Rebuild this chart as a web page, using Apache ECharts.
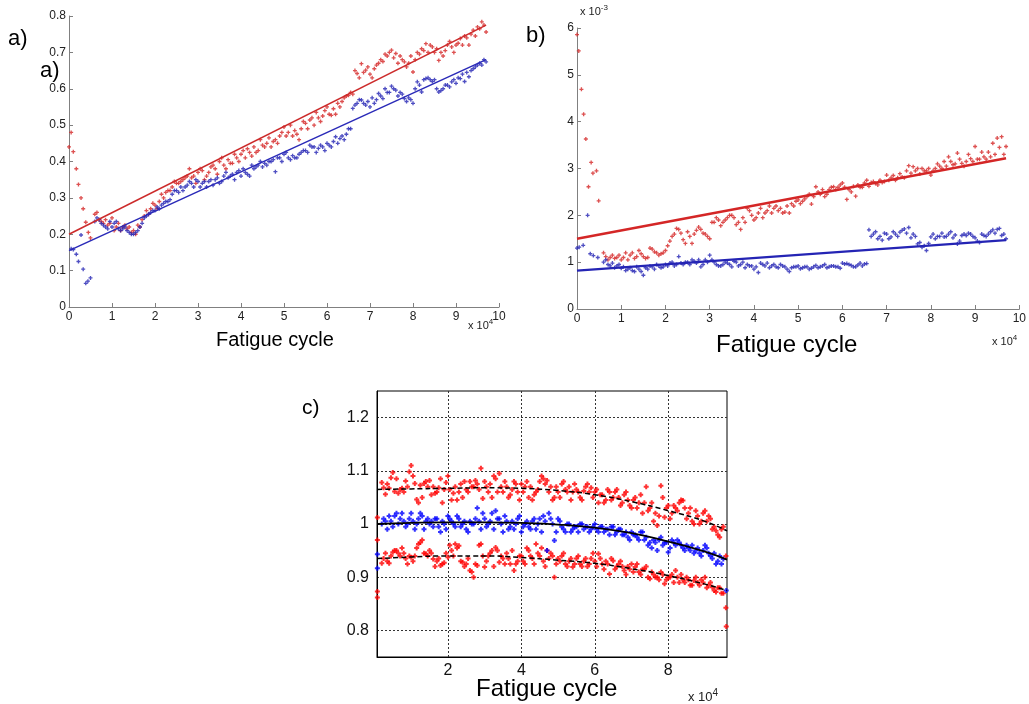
<!DOCTYPE html>
<html><head><meta charset="utf-8">
<script src="https://cdn.jsdelivr.net/npm/echarts@6/dist/echarts.min.js"></script>
<style>html,body{margin:0;padding:0;background:#fff}#c{width:1029px;height:704px}</style>
</head><body><div id="c"></div>
<script>
// ---------- Panel a ----------
const aRedX = [0,0.05,0.1,0.17,0.22,0.28,0.33,0.39,0.45,0.5,0.6,0.7,0.8,0.9,1.0,1.1,1.2,1.3,1.4,1.5,1.6,1.7,1.8,1.9,2.0,2.1,2.2,2.3,2.4,2.5,2.6,2.7,2.8,2.9,3.0,3.1,3.2,3.3,3.4,3.5,3.6,3.7,3.8,3.9,4.0,4.1,4.2,4.3,4.4,4.5,4.6,4.7,4.8,4.9,5.0,5.1,5.2,5.3,5.4,5.5,5.6,5.7,5.8,5.9,6.0,6.1,6.2,6.3,6.4,6.5,6.6,6.7,6.8,6.9,7.0,7.1,7.2,7.3,7.4,7.5,7.6,7.7,7.8,7.9,8.0,8.1,8.2,8.3,8.4,8.5,8.6,8.7,8.8,8.9,9.0,9.1,9.2,9.3,9.4,9.5,9.6,9.7];
const aRedY = [0.44,0.48,0.427,0.38,0.337,0.30,0.27,0.233,0.205,0.19,0.255,0.24,0.23,0.225,0.245,0.22,0.21,0.225,0.22,0.21,0.225,0.24,0.265,0.27,0.28,0.29,0.30,0.32,0.33,0.34,0.345,0.355,0.38,0.36,0.37,0.375,0.36,0.385,0.38,0.40,0.39,0.405,0.395,0.41,0.42,0.41,0.425,0.44,0.43,0.445,0.45,0.44,0.46,0.47,0.495,0.48,0.47,0.475,0.49,0.505,0.514,0.50,0.52,0.525,0.55,0.527,0.53,0.55,0.575,0.582,0.585,0.642,0.669,0.651,0.64,0.655,0.67,0.675,0.69,0.706,0.697,0.69,0.674,0.67,0.646,0.70,0.71,0.724,0.72,0.70,0.678,0.69,0.72,0.715,0.72,0.738,0.745,0.72,0.761,0.77,0.784,0.756];
const aX2 = [0.65,0.75,0.85,0.95,1.05,1.15,1.25,1.35,1.45,1.55,1.65,1.75,1.85,1.95,2.05,2.15,2.25,2.35,2.45,2.55,2.65,2.75,2.85,2.95,3.05,3.15,3.25,3.35,3.45,3.55,3.65,3.75,3.85,3.95,4.05,4.15,4.25,4.35,4.45,4.55,4.65,4.75,4.85,4.95,5.05,5.15,5.25,5.35,5.45,5.55,5.65,5.75,5.85,5.95,6.05,6.15,6.25,6.35,6.45,6.55,6.65,6.75,6.85,6.95,7.05,7.15,7.25,7.35,7.45,7.55,7.65,7.75,7.85,7.95,8.05,8.15,8.25,8.35,8.45,8.55,8.65,8.75,8.85,8.95,9.05,9.15,9.25,9.35,9.45,9.55,9.65];
const aRedY2 = [0.26,0.235,0.24,0.23,0.21,0.23,0.22,0.215,0.205,0.2,0.22,0.25,0.255,0.285,0.27,0.31,0.315,0.32,0.345,0.34,0.35,0.36,0.355,0.34,0.38,0.35,0.37,0.39,0.365,0.41,0.38,0.395,0.42,0.40,0.43,0.435,0.415,0.425,0.46,0.44,0.465,0.455,0.45,0.48,0.47,0.5,0.485,0.46,0.51,0.49,0.52,0.535,0.51,0.54,0.53,0.545,0.56,0.565,0.58,0.59,0.65,0.63,0.645,0.66,0.63,0.665,0.68,0.695,0.70,0.685,0.67,0.68,0.66,0.69,0.68,0.695,0.705,0.70,0.715,0.71,0.70,0.705,0.73,0.70,0.725,0.72,0.74,0.75,0.745,0.765,0.775];
const aBlueX = [0.05,0.1,0.17,0.22,0.28,0.33,0.39,0.44,0.5,0.6,0.7,0.8,0.9,1.0,1.1,1.2,1.3,1.4,1.5,1.6,1.7,1.8,1.9,2.0,2.1,2.2,2.3,2.4,2.5,2.6,2.7,2.8,2.9,3.0,3.1,3.2,3.3,3.4,3.5,3.6,3.7,3.8,3.9,4.0,4.1,4.2,4.3,4.4,4.5,4.6,4.7,4.8,4.9,5.0,5.1,5.2,5.3,5.4,5.5,5.6,5.7,5.8,5.9,6.0,6.1,6.2,6.3,6.4,6.5,6.6,6.7,6.8,6.9,7.0,7.1,7.2,7.3,7.4,7.5,7.6,7.7,7.8,7.9,8.0,8.1,8.2,8.3,8.4,8.5,8.6,8.7,8.8,8.9,9.0,9.1,9.2,9.3,9.4,9.5,9.6,9.7];
const aBlueY = [0.16,0.158,0.145,0.125,0.198,0.104,0.065,0.071,0.08,0.235,0.24,0.225,0.215,0.22,0.235,0.21,0.22,0.205,0.20,0.21,0.23,0.25,0.26,0.265,0.27,0.285,0.29,0.31,0.32,0.33,0.33,0.345,0.33,0.345,0.34,0.33,0.35,0.35,0.34,0.36,0.355,0.365,0.37,0.36,0.37,0.36,0.38,0.39,0.385,0.39,0.40,0.372,0.41,0.42,0.41,0.416,0.41,0.425,0.43,0.445,0.44,0.436,0.44,0.45,0.44,0.468,0.463,0.46,0.49,0.546,0.56,0.569,0.555,0.55,0.56,0.587,0.573,0.59,0.607,0.596,0.59,0.573,0.575,0.56,0.619,0.591,0.628,0.625,0.625,0.591,0.60,0.61,0.619,0.615,0.628,0.62,0.633,0.655,0.665,0.665,0.674];
const aBlueY2 = [0.245,0.23,0.22,0.235,0.23,0.215,0.215,0.21,0.20,0.205,0.22,0.245,0.255,0.265,0.275,0.28,0.29,0.295,0.32,0.315,0.32,0.335,0.34,0.35,0.33,0.345,0.345,0.335,0.355,0.345,0.37,0.36,0.35,0.375,0.38,0.365,0.39,0.385,0.40,0.395,0.40,0.405,0.41,0.40,0.425,0.405,0.41,0.42,0.43,0.425,0.44,0.425,0.445,0.43,0.445,0.455,0.45,0.47,0.475,0.49,0.555,0.57,0.56,0.565,0.575,0.57,0.58,0.6,0.59,0.6,0.58,0.585,0.565,0.57,0.6,0.61,0.625,0.63,0.62,0.6,0.595,0.61,0.605,0.625,0.63,0.64,0.645,0.65,0.66,0.67,0.68];
const aFitX = [0, 9.7];
const aRedFit = [0.20, 0.775];
const aBlueFit = [0.155, 0.68];

// ---------- Panel b (values x 1e-3) ----------
const bRedX = [0,0.04,0.1,0.15,0.2,0.26,0.32,0.36,0.44,0.49,0.6,0.7,0.8,0.9,1.0,1.1,1.2,1.3,1.4,1.5,1.6,1.7,1.8,1.9,2.0,2.1,2.2,2.3,2.4,2.5,2.6,2.7,2.8,2.9,3.0,3.1,3.2,3.3,3.4,3.5,3.6,3.7,3.8,3.9,4.0,4.1,4.2,4.3,4.4,4.5,4.6,4.7,4.8,4.9,5.0,5.1,5.2,5.3,5.4,5.5,5.6,5.7,5.8,5.9,6.0,6.1,6.2,6.3,6.4,6.5,6.6,6.7,6.8,6.9,7.0,7.1,7.2,7.3,7.4,7.5,7.6,7.7,7.8,7.9,8.0,8.1,8.2,8.3,8.4,8.5,8.6,8.7,8.8,8.9,9.0,9.1,9.2,9.3,9.4,9.5,9.6,9.7];
const bRedY = [5.86,5.51,4.69,4.16,3.63,2.61,3.13,2.9,2.95,2.31,1.2,1.05,1.15,1.1,1.05,1.2,1.15,1.08,1.25,1.12,1.1,1.28,1.2,1.18,1.25,1.45,1.6,1.7,1.48,1.65,1.4,1.68,1.7,1.6,1.5,1.85,1.9,1.85,1.95,2.0,1.8,1.7,1.85,2.1,1.9,2.05,1.95,2.1,2.05,2.2,2.15,2.07,2.05,2.2,2.33,2.3,2.4,2.24,2.61,2.45,2.4,2.55,2.61,2.6,2.69,2.34,2.5,2.41,2.6,2.69,2.62,2.72,2.65,2.7,2.86,2.8,2.75,2.89,2.8,3.06,3.04,3.0,3.0,2.95,2.86,3.0,3.05,3.15,3.25,3.08,3.33,3.11,3.15,3.21,3.47,3.2,3.25,3.35,3.54,3.65,3.68,3.47];
const bX2 = [0.65,0.75,0.85,0.95,1.05,1.15,1.25,1.35,1.45,1.55,1.65,1.75,1.85,1.95,2.05,2.15,2.25,2.35,2.45,2.55,2.65,2.75,2.85,2.95,3.05,3.15,3.25,3.35,3.45,3.55,3.65,3.75,3.85,3.95,4.05,4.15,4.25,4.35,4.45,4.55,4.65,4.75,4.85,4.95,5.05,5.15,5.25,5.35,5.45,5.55,5.65,5.75,5.85,5.95,6.05,6.15,6.25,6.35,6.45,6.55,6.65,6.75,6.85,6.95,7.05,7.15,7.25,7.35,7.45,7.55,7.65,7.75,7.85,7.95,8.05,8.15,8.25,8.35,8.45,8.55,8.65,8.75,8.85,8.95,9.05,9.15,9.25,9.35,9.45,9.55,9.65];
const bRedY2 = [1.12,1.1,1.08,1.15,1.1,1.05,1.2,1.12,1.18,1.08,1.3,1.22,1.15,1.2,1.35,1.55,1.72,1.62,1.4,1.55,1.6,1.75,1.62,1.55,1.85,1.95,1.78,1.9,2.0,1.95,1.85,1.95,2.15,2.0,1.95,2.15,2.05,2.2,2.15,2.1,2.05,2.2,2.25,2.3,2.25,2.35,2.45,2.4,2.5,2.55,2.45,2.6,2.55,2.65,2.6,2.55,2.62,2.65,2.6,2.75,2.7,2.68,2.75,2.72,2.75,2.85,2.8,2.82,2.95,2.9,2.95,2.88,2.95,3.0,2.95,3.1,3.0,3.05,3.15,3.1,3.2,3.05,3.3,3.15,3.2,3.35,3.2,3.25,3.3,3.45,3.3];
const bBlueX = [0,0.05,0.14,0.24,0.3,0.37,0.47,0.6,0.7,0.8,0.9,1.0,1.1,1.2,1.3,1.4,1.5,1.6,1.7,1.8,1.9,2.0,2.1,2.2,2.3,2.4,2.5,2.6,2.7,2.8,2.9,3.0,3.1,3.2,3.3,3.4,3.5,3.6,3.7,3.8,3.9,4.0,4.1,4.2,4.3,4.4,4.5,4.6,4.7,4.8,4.9,5.0,5.1,5.2,5.3,5.4,5.5,5.6,5.7,5.8,5.9,6.0,6.1,6.2,6.3,6.4,6.5,6.6,6.7,6.8,6.9,7.0,7.1,7.2,7.3,7.4,7.5,7.6,7.7,7.8,7.9,8.0,8.1,8.2,8.3,8.4,8.5,8.6,8.7,8.8,8.9,9.0,9.1,9.2,9.3,9.4,9.5,9.6,9.7];
const bBlueY = [1.3,1.32,1.36,2.0,1.18,1.14,1.1,1.0,0.95,0.98,0.92,0.87,0.82,0.88,0.8,0.85,0.72,0.85,0.9,0.95,0.88,0.95,0.98,0.92,1.12,0.95,1.0,1.05,0.98,0.9,1.05,1.15,1.0,0.92,0.95,0.98,0.9,1.0,0.95,0.88,0.92,0.85,0.78,0.95,0.98,0.92,0.9,0.95,0.9,0.8,0.9,0.92,0.88,0.9,0.87,0.93,0.9,0.95,0.9,0.92,0.9,0.98,0.97,0.93,0.9,0.98,0.96,1.69,1.6,1.5,1.47,1.6,1.54,1.6,1.64,1.71,1.74,1.6,1.39,1.32,1.25,1.54,1.5,1.55,1.54,1.6,1.52,1.39,1.57,1.57,1.6,1.52,1.42,1.57,1.6,1.69,1.7,1.57,1.5];
const bBlueY2 = [1.05,0.92,0.88,0.95,0.9,0.85,0.82,0.9,0.8,0.88,0.92,0.85,0.92,0.9,0.92,1.0,0.95,0.98,1.0,0.95,1.02,1.05,0.95,1.0,1.05,0.95,0.92,1.0,0.95,1.02,0.92,1.0,0.95,0.92,0.9,0.98,0.92,0.88,0.95,0.88,0.92,0.85,0.88,0.9,0.86,0.9,0.85,0.9,0.88,0.92,0.88,0.92,0.9,0.87,0.96,0.95,0.9,0.94,0.92,0.97,1.55,1.65,1.55,1.62,1.5,1.65,1.55,1.68,1.62,1.52,1.55,1.42,1.35,1.4,1.6,1.55,1.62,1.55,1.65,1.58,1.45,1.6,1.62,1.55,1.45,1.6,1.55,1.65,1.62,1.72,1.6];
const bFitX = [0, 9.7];
const bRedFit = [1.5, 3.22];
const bBlueFit = [0.82, 1.47];

// ---------- Panel c ----------
const cX = [0.2,0.3,0.4,0.5,0.6,0.7,0.8,0.9,1.0,1.1,1.2,1.3,1.4,1.5,1.6,1.7,1.8,1.9,2.0,2.1,2.2,2.3,2.4,2.5,2.6,2.7,2.8,2.9,3.0,3.1,3.2,3.3,3.4,3.5,3.6,3.7,3.8,3.9,4.0,4.1,4.2,4.3,4.4,4.5,4.6,4.7,4.8,4.9,5.0,5.1,5.2,5.3,5.4,5.5,5.6,5.7,5.8,5.9,6.0,6.1,6.2,6.3,6.4,6.5,6.6,6.7,6.8,6.9,7.0,7.1,7.2,7.3,7.4,7.5,7.6,7.7,7.8,7.9,8.0,8.1,8.2,8.3,8.4,8.5,8.6,8.7,8.8,8.9,9.0,9.1,9.2,9.3,9.4,9.5];
const cUpperY = [1.078,1.056,1.067,1.097,1.085,1.065,1.06,1.07,1.11,1.076,1.04,1.05,1.08,1.082,1.07,1.06,1.085,1.065,1.09,1.045,1.07,1.06,1.05,1.065,1.08,1.07,1.075,1.105,1.08,1.06,1.05,1.085,1.095,1.06,1.07,1.055,1.08,1.06,1.075,1.07,1.05,1.045,1.06,1.08,1.085,1.082,1.07,1.05,1.06,1.075,1.065,1.07,1.06,1.065,1.05,1.062,1.075,1.068,1.06,1.04,1.055,1.045,1.06,1.05,1.065,1.035,1.055,1.045,1.03,1.05,1.04,1.02,1.07,1.03,1.005,0.997,1.072,1.0125,1.035,1.02,1.03,1.04,1.044,1.01,1.03,1.0,1.015,1.005,1.025,1.015,0.99,0.9875,0.975,0.995];
const cMiddleY = [1.0,1.005,1.015,0.995,1.02,1.01,1.005,1.0,1.02,0.99,1.01,1.015,1.005,1.0,0.995,1.01,0.985,1.0,1.015,1.005,0.995,1.01,1.0,0.99,1.005,1.0,1.03,0.99,1.01,1.0,1.02,1.025,1.01,0.985,1.005,0.995,0.99,1.01,0.985,1.0,0.995,1.005,0.99,1.01,1.015,0.95,1.01,0.969,1.01,0.995,0.985,1.0,0.99,0.995,1.0,0.99,0.995,0.99,1.0,0.985,0.995,0.99,0.98,0.995,0.985,0.99,0.98,0.975,0.985,0.98,0.97,0.985,0.975,0.965,0.97,0.95,0.975,0.965,0.947,0.97,0.96,0.965,0.955,0.96,0.95,0.945,0.955,0.94,0.96,0.945,0.935,0.925,0.94,0.934];
const cLowerY = [0.926,0.945,0.926,0.947,0.95,0.94,0.945,0.925,0.9375,0.94,0.9625,0.97,0.944,0.95,0.934,0.93,0.922,0.927,0.9375,0.95,0.9625,0.959,0.928,0.925,0.9125,0.9,0.922,0.9625,0.919,0.94,0.95,0.956,0.928,0.935,0.945,0.925,0.9125,0.93,0.94,0.925,0.95,0.935,0.9625,0.94,0.93,0.95,0.945,0.9,0.935,0.94,0.925,0.93,0.919,0.935,0.925,0.93,0.92,0.935,0.93,0.944,0.925,0.93,0.906,0.931,0.92,0.93,0.9125,0.92,0.925,0.919,0.91,0.915,0.92,0.897,0.905,0.9,0.91,0.8875,0.9,0.905,0.9125,0.89,0.895,0.9,0.885,0.894,0.89,0.895,0.9,0.885,0.881,0.872,0.88,0.87];
const cX2 = [0.25,0.35,0.45,0.55,0.65,0.75,0.85,0.95,1.05,1.15,1.25,1.35,1.45,1.55,1.65,1.75,1.85,1.95,2.05,2.15,2.25,2.35,2.45,2.55,2.65,2.75,2.85,2.95,3.05,3.15,3.25,3.35,3.45,3.55,3.65,3.75,3.85,3.95,4.05,4.15,4.25,4.35,4.45,4.55,4.65,4.75,4.85,4.95,5.05,5.15,5.25,5.35,5.45,5.55,5.65,5.75,5.85,5.95,6.05,6.15,6.25,6.35,6.45,6.55,6.65,6.75,6.85,6.95,7.05,7.15,7.25,7.35,7.45,7.55,7.65,7.75,7.85,7.95,8.05,8.15,8.25,8.35,8.45,8.55,8.65,8.75,8.85,8.95,9.05,9.15,9.25,9.35,9.45];
const cUpperY2 = [1.068,1.075,1.087,1.061,1.058,1.067,1.081,1.098,1.09,1.046,1.073,1.076,1.07,1.055,1.058,1.068,1.04,1.078,1.065,1.058,1.045,1.075,1.08,1.06,1.07,1.082,1.065,1.048,1.07,1.075,1.09,1.06,1.07,1.08,1.05,1.065,1.075,1.045,1.06,1.08,1.07,1.055,1.065,1.09,1.075,1.06,1.045,1.07,1.05,1.08,1.06,1.045,1.075,1.06,1.045,1.07,1.06,1.05,1.065,1.055,1.04,1.065,1.045,1.06,1.05,1.04,1.06,1.035,1.045,1.03,1.055,1.04,1.025,1.04,1.02,1.015,1.05,1.03,1.01,1.035,1.025,1.045,1.03,1.02,1.005,1.025,1.0,1.02,1.005,1.01,0.995,0.98,0.99];
const cMiddleY2 = [1.01,0.99,1.005,1.015,1.0,1.02,0.995,1.01,1.005,1.0,1.02,0.99,1.01,1.005,1.01,0.995,1.005,0.99,1.01,1.0,1.015,0.995,1.005,0.985,1.0,1.01,1.005,1.02,0.995,1.005,0.99,1.01,1.0,1.015,0.99,1.005,1.0,1.015,0.995,1.005,0.99,1.01,1.0,0.985,1.005,1.02,1.0,0.985,1.005,0.99,1.0,0.985,0.995,0.985,1.0,0.995,0.985,0.995,0.99,0.995,0.985,0.99,0.995,0.98,0.99,0.98,0.985,0.97,0.98,0.975,0.985,0.97,0.96,0.955,0.965,0.97,0.96,0.965,0.955,0.965,0.97,0.96,0.95,0.955,0.96,0.95,0.945,0.95,0.955,0.94,0.945,0.93,0.925];
const cLowerY2 = [0.935,0.93,0.94,0.95,0.945,0.955,0.935,0.94,0.93,0.955,0.965,0.945,0.94,0.945,0.92,0.935,0.925,0.945,0.96,0.94,0.955,0.93,0.92,0.935,0.91,0.925,0.96,0.94,0.93,0.945,0.92,0.95,0.94,0.925,0.935,0.95,0.925,0.94,0.93,0.955,0.94,0.925,0.945,0.955,0.92,0.935,0.94,0.925,0.93,0.945,0.92,0.935,0.925,0.94,0.92,0.935,0.925,0.945,0.92,0.935,0.915,0.925,0.935,0.915,0.925,0.92,0.905,0.915,0.91,0.925,0.905,0.915,0.9,0.91,0.9,0.895,0.905,0.895,0.9,0.89,0.9,0.905,0.89,0.895,0.885,0.9,0.885,0.89,0.88,0.89,0.875,0.88,0.87];
const cEdgeRedX = [0.08,0.08,0.08,0.08,9.57,9.57,9.58];
const cEdgeRedY = [1.012,0.97,0.873,0.862,0.94,0.8425,0.8075];
const cEdgeBlueX = [0.08,0.08,9.58];
const cEdgeBlueY = [0.943,0.917,0.875];
const cFitX = [0.08,1,2,3,4,5,6,7,8,9,9.6];
const cFitUpper = [1.065,1.066,1.067,1.068,1.067,1.063,1.055,1.042,1.025,1.005,0.987];
const cFitMiddle = [1.0,1.002,1.003,1.003,1.002,0.999,0.993,0.983,0.967,0.948,0.933];
const cFitLower = [0.935,0.938,0.94,0.94,0.937,0.932,0.926,0.916,0.903,0.887,0.875];
const cXTicks = [2,4,6,8];
const cYTicks = [0.8,0.9,1.0,1.1,1.2];

const pairs = (xs, ys) => xs.map((x, i) => [x, ys[i]]).filter(p => p[1] != null);
const PLUS = 'path://M-1,-3H1V-1H3V1H1V3H-1V1H-3V-1H-1Z';
const PLUS_BOLD = 'path://M-1.2,-3H1.2V-1.2H3V1.2H1.2V3H-1.2V1.2H-3V-1.2H-1.2Z';
const RED_AB = '#d42626', BLUE_AB = '#2424b4';
const FONT = 'Liberation Sans, Arial, sans-serif';

function scat(xi, data, color, size, sym) {
  return { type: 'scatter', xAxisIndex: xi, yAxisIndex: xi, data, symbol: sym || PLUS, symbolSize: size,
    itemStyle: { color }, silent: true, animation: false };
}
function line(xi, data, color, width, type, smooth) {
  return { type: 'line', xAxisIndex: xi, yAxisIndex: xi, data, showSymbol: false, smooth: !!smooth,
    lineStyle: { color, width, type: type || 'solid' }, silent: true, animation: false, z: 3 };
}
const abAxisX = (min, max) => ({
  type: 'value', min, max, interval: 1,
  axisLine: { show: true, onZero: false, lineStyle: { color: '#808080', width: 1 } },
  axisTick: { show: true, inside: true, length: 4, lineStyle: { color: '#808080' } },
  axisLabel: { color: '#222', fontSize: 12, fontFamily: FONT, margin: 4 },
  splitLine: { show: false }
});
const abAxisY = (min, max, interval) => ({
  type: 'value', min, max, interval,
  axisLine: { show: true, onZero: false, lineStyle: { color: '#808080', width: 1 } },
  axisTick: { show: true, inside: true, length: 4, lineStyle: { color: '#808080' } },
  axisLabel: { color: '#222', fontSize: 12, fontFamily: FONT, margin: 3 },
  splitLine: { show: false }
});

const chart = echarts.init(document.getElementById('c'), null, { renderer: 'canvas' });
const sup = (base, exp, x, y, size) => ({
  type: 'text', left: x, top: y, silent: true,
  style: { text: '{b|' + base + '}{s|' + exp + '}', rich: {
    b: { fontSize: size, fontFamily: FONT, fill: '#222' },
    s: { fontSize: size - 3, fontFamily: FONT, fill: '#222', verticalAlign: 'top', padding: [0, 0, 8, 0] } } }
});
const txt = (t, x, y, size) => ({ type: 'text', left: x, top: y, silent: true,
  style: { text: t, fontSize: size, fontFamily: FONT, fill: '#000' } });

chart.setOption({
  animation: false,
  backgroundColor: '#fff',
  grid: [
    { left: 69, top: 16, width: 430, height: 291 },
    { left: 577, top: 28, width: 444, height: 281 },
    { left: 377, top: 391, width: 350, height: 266, show: true, borderColor: '#000', borderWidth: 1, backgroundColor: 'transparent' }
  ],
  xAxis: [
    Object.assign(abAxisX(0, 10), { gridIndex: 0 }),
    Object.assign(abAxisX(0, 10), { gridIndex: 1 }),
    { gridIndex: 2, type: 'value', min: 0.07, max: 9.6,
      axisLine: { show: true, lineStyle: { color: '#000' } },
      axisTick: { show: false, customValues: cXTicks },
      axisLabel: { customValues: cXTicks, color: '#111', fontSize: 16, fontFamily: FONT, margin: 6 },
      splitLine: { show: true, lineStyle: { color: '#333', type: [2, 2], width: 1 } } }
  ],
  yAxis: [
    Object.assign(abAxisY(0, 0.8, 0.1), { gridIndex: 0 }),
    Object.assign(abAxisY(0, 6, 1), { gridIndex: 1 }),
    { gridIndex: 2, type: 'value', min: 0.75, max: 1.25,
      axisLine: { show: true, lineStyle: { color: '#000' } },
      axisTick: { show: false, customValues: cYTicks },
      axisLabel: { customValues: cYTicks, color: '#111', fontSize: 16, fontFamily: FONT, margin: 8,
        formatter: v => (Math.abs(v - 1) < 1e-9 ? '1' : String(Math.round(v * 10) / 10)) },
      splitLine: { show: true, lineStyle: { color: '#333', type: [2, 2], width: 1 } } }
  ],
  series: [
    scat(0, pairs(aRedX, aRedY), RED_AB, 4),
    scat(0, pairs(aX2, aRedY2), RED_AB, 4),
    scat(0, pairs(aBlueX, aBlueY), BLUE_AB, 4),
    scat(0, pairs(aX2, aBlueY2), BLUE_AB, 4),
    line(0, pairs(aFitX, aRedFit), '#cc2a2a', 1.5),
    line(0, pairs(aFitX, aBlueFit), '#2a2ab8', 1.5),
    scat(1, pairs(bRedX, bRedY), RED_AB, 4),
    scat(1, pairs(bX2, bRedY2), RED_AB, 4),
    scat(1, pairs(bBlueX, bBlueY), BLUE_AB, 4),
    scat(1, pairs(bX2, bBlueY2), BLUE_AB, 4),
    line(1, pairs(bFitX, bRedFit), '#d42626', 2.4),
    line(1, pairs(bFitX, bBlueFit), '#2424b4', 2.4),
    scat(2, pairs(cX, cUpperY), '#ff0000', 5, PLUS_BOLD),
    scat(2, pairs(cX2, cUpperY2), '#ff0000', 5, PLUS_BOLD),
    scat(2, pairs(cX, cLowerY), '#ff0000', 5, PLUS_BOLD),
    scat(2, pairs(cX2, cLowerY2), '#ff0000', 5, PLUS_BOLD),
    scat(2, pairs(cEdgeRedX, cEdgeRedY), '#ff0000', 5, PLUS_BOLD),
    scat(2, pairs(cX, cMiddleY), '#0000ff', 5, PLUS_BOLD),
    scat(2, pairs(cX2, cMiddleY2), '#0000ff', 5, PLUS_BOLD),
    scat(2, pairs(cEdgeBlueX, cEdgeBlueY), '#0000ff', 5, PLUS_BOLD),
    line(2, pairs(cFitX, cFitUpper), '#000', 1.5, [5, 3], true),
    line(2, pairs(cFitX, cFitMiddle), '#000', 1.8, 'solid', true),
    line(2, pairs(cFitX, cFitLower), '#000', 1.5, [5, 3], true)
  ],
  graphic: [
    txt('a)', 8, 28, 22),
    txt('a)', 40, 60, 22),
    txt('b)', 526, 25, 22),
    txt('c)', 302, 398, 21),
    txt('Fatigue cycle', 216, 330, 20),
    txt('Fatigue cycle', 716, 333, 24),
    txt('Fatigue cycle', 476, 677, 24),
    sup('x 10', '4', 468, 318, 11),
    sup('x 10', '4', 992, 334, 11),
    sup('x 10', '-3', 580, 4, 11),
    sup('x 10', '4', 688, 688, 13)
  ]
});
</script>
</body></html>
